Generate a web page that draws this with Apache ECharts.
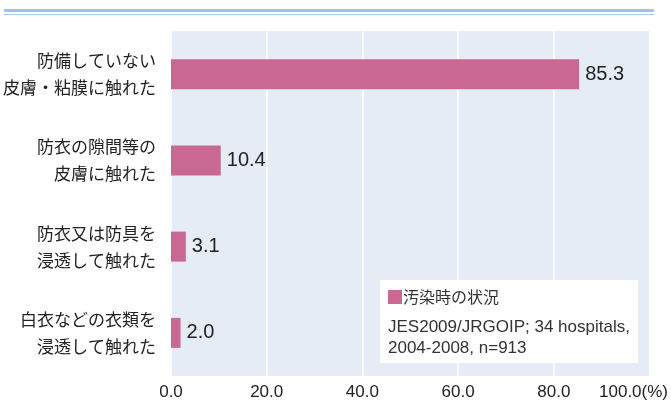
<!DOCTYPE html>
<html>
<head>
<meta charset="utf-8">
<script src="https://cdn.jsdelivr.net/npm/echarts@6/dist/echarts.min.js"></script>
<style>
  html, body { margin: 0; padding: 0; background: #fff; }
  #main { width: 671px; height: 401px; }
</style>
</head>
<body>
<div id="main"></div>
<script>
var categories = [
  "防備していない\n皮膚・粘膜に触れた",
  "防衣の隙間等の\n皮膚に触れた",
  "防衣又は防具を\n浸透して触れた",
  "白衣などの衣類を\n浸透して触れた"
];
var values = [85.3, 10.4, 3.1, 2.0];
var seriesName = "汚染時の状況";
var noteLines = ["JES2009/JRGOIP; 34 hospitals,", "2004-2008, n=913"];

var jp = '"Noto Sans CJK JP", sans-serif';
var latin = '"Liberation Sans", Arial, sans-serif';

var chartDom = document.getElementById("main");
var myChart = echarts.init(chartDom);
var option = {
  animation: false,
  backgroundColor: "#fff",
  grid: { left: 169, right: 19, top: 31, bottom: 24, backgroundColor: "#E6ECF6", show: true, borderWidth: 0 },
  legend: {
    data: [seriesName],
    left: 388, top: 289,
    icon: "rect", itemWidth: 14, itemHeight: 14, itemGap: 0,
    padding: 0,
    textStyle: { fontFamily: jp, fontSize: 16, color: "#333", padding: [0, 0, 0, -4] }
  },
  xAxis: {
    type: "value",
    min: 0, max: 100, interval: 20,
    axisLine: { show: false },
    axisTick: { show: false },
    splitLine: { lineStyle: { color: "#fff", width: 1.5 } },
    axisLabel: {
      margin: 8,
      fontFamily: latin, fontSize: 17, color: "#222",
      formatter: function (v) {
        return v === 100 ? "{m|100.0(%)}" : v.toFixed(1);
      },
      rich: { m: { fontFamily: latin, fontSize: 17, color: "#222", padding: [0, 32, 0, 0] } }
    }
  },
  yAxis: {
    type: "category",
    data: categories,
    inverse: true,
    axisLine: { show: false },
    axisTick: { show: false },
    axisLabel: { margin: 15, fontFamily: jp, fontSize: 17, lineHeight: 27, color: "#222", align: "right" }
  },
  series: [{
    name: seriesName,
    type: "bar",
    data: values,
    barWidth: 30,
    itemStyle: { color: "#C96890" },
    label: {
      show: true, position: "right", distance: 6,
      fontFamily: latin, fontSize: 20, color: "#222",
      formatter: function (p) { return p.value.toFixed(1); }
    }
  }],
  graphic: [
    { type: "rect", z: -1, shape: { x: 4, y: 9, width: 650, height: 3 }, style: { fill: "#9DC3E6" } },
    { type: "rect", z: -1, shape: { x: 4, y: 14, width: 650, height: 1 }, style: { fill: "#A9CBEA" } },
    { type: "rect", z: 1, shape: { x: 380, y: 280, width: 258, height: 83 }, style: { fill: "#fff" } },
    { type: "text", z: 2, left: 388, top: 317, style: { text: noteLines.join("\n"), font: "17px " + latin, fill: "#333", lineHeight: 21 } }
  ]
};
myChart.setOption(option);
</script>
</body>
</html>
